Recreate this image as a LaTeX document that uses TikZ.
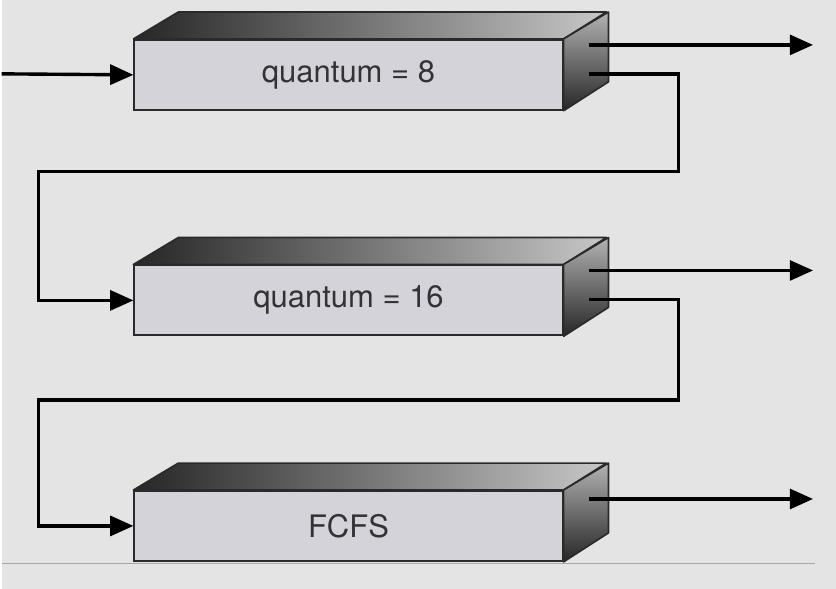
\documentclass[tikz,border=0pt]{standalone}
\usepackage{fontspec}
\setmainfont{TeX Gyre Heros}
\usetikzlibrary{arrows.meta}

\definecolor{slidebg}{HTML}{E4E4E4}
\definecolor{facefill}{HTML}{D3D3D9}
\definecolor{edgegray}{HTML}{2A2A2A}

\begin{document}
\begin{tikzpicture}[x=0.03cm, y=-0.03cm, font=\fontsize{26.5}{30}\selectfont,
  queue/.style={draw=edgegray, line width=1.7pt, fill=facefill, minimum width=12.87cm, minimum height=2.1cm, inner sep=0pt, text=black!80},
  face/.style={draw=edgegray, line width=1.4pt, line join=round},
  flow/.style={line width=2.9pt, -{Triangle[length=7mm,width=6mm]}}]
	\fill[slidebg] (0,0) rectangle (836,590);
	\draw[color=gray!70, line width=0.6pt] (0,564) -- (815,564);
	% the three queues
	\node[queue] (q1) at (347.5,75) {quantum = 8};
	\shadedraw[face, left color=black!85, right color=black!22] (q1.north west) -- ++(45,-27) -- ++(429,0) -- (q1.north east) -- cycle;
	\shadedraw[face, top color=black!30, bottom color=black!85] (q1.north east) -- ++(45,-27) -- ++(0,70) -- (q1.south east) -- cycle;
	\node[queue] (q2) at (347.5,301) {quantum = 16};
	\shadedraw[face, left color=black!85, right color=black!22] (q2.north west) -- ++(45,-27) -- ++(429,0) -- (q2.north east) -- cycle;
	\shadedraw[face, top color=black!30, bottom color=black!85] (q2.north east) -- ++(45,-27) -- ++(0,70) -- (q2.south east) -- cycle;
	\node[queue] (q3) at (347.5,527) {FCFS};
	\shadedraw[face, left color=black!85, right color=black!22] (q3.north west) -- ++(45,-27) -- ++(429,0) -- (q3.north east) -- cycle;
	\shadedraw[face, top color=black!30, bottom color=black!85] (q3.north east) -- ++(45,-27) -- ++(0,70) -- (q3.south east) -- cycle;
	% end points
	\coordinate (arrive) at (0,74);
	\coordinate (q1done) at (588,45);
	\coordinate (q1left) at (588,74);
	\coordinate (exit1) at (813,45);
	\coordinate (q2done) at (588,271);
	\coordinate (q2left) at (588,300);
	\coordinate (exit2) at (813,271);
	\coordinate (q3done) at (588,500);
	\coordinate (exit3) at (813,500);
	% connectors
	\draw[flow] (arrive) -- (q1.west);
	\draw[flow] (q1done) -- (exit1);
	\draw[flow] (q2done) -- (exit2);
	\draw[flow] (q3done) -- (exit3);
	\draw[flow] (q1left) -- (678,74) |- (37,172) |- (q2.west);
	\draw[flow] (q2left) -- (678,300) |- (37,401) |- (q3.west);
\end{tikzpicture}
\end{document}
